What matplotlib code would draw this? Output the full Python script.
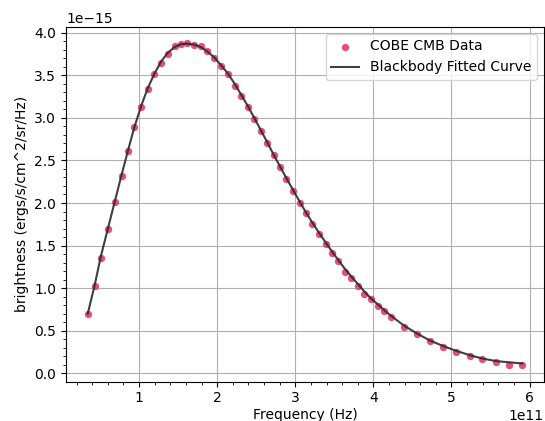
import matplotlib
matplotlib.use("Agg")
import matplotlib.pyplot as plt
import numpy as np

# Frequency in units of 1e11 Hz
freq = [0.342, 0.432, 0.509, 0.603, 0.692, 0.778, 0.859, 0.936, 1.026, 1.112,
        1.197, 1.282, 1.364, 1.454, 1.538, 1.615, 1.704, 1.791, 1.872, 1.962,
        2.047, 2.137, 2.223, 2.308, 2.397, 2.474, 2.556, 2.637, 2.721, 2.804,
        2.881, 2.967, 3.060, 3.133, 3.218, 3.308, 3.394, 3.471, 3.551, 3.633,
        3.714, 3.800, 3.881, 3.964, 4.056, 4.141, 4.227, 4.394, 4.564, 4.727,
        4.897, 5.060, 5.231, 5.394, 5.569, 5.740, 5.906]
# Brightness data in units of 1e-15 ergs/s/cm^2/sr/Hz
data = [0.696, 1.028, 1.353, 1.693, 2.013, 2.318, 2.607, 2.889, 3.123, 3.334,
        3.510, 3.639, 3.748, 3.842, 3.869, 3.877, 3.859, 3.842, 3.783, 3.701,
        3.607, 3.517, 3.376, 3.252, 3.123, 2.989, 2.845, 2.708, 2.562, 2.420,
        2.286, 2.142, 2.001, 1.887, 1.759, 1.634, 1.521, 1.415, 1.321, 1.189,
        1.118, 1.028, 0.934, 0.872, 0.797, 0.732, 0.657, 0.544, 0.457, 0.380,
        0.315, 0.257, 0.204, 0.164, 0.134, 0.102, 0.094]
# Fitted curve values at the same frequencies (units of 1e-15)
fit = [0.70, 1.04, 1.37, 1.71, 2.03, 2.34, 2.62, 2.88, 3.14, 3.35,
       3.52, 3.66, 3.76, 3.83, 3.865, 3.87, 3.86, 3.83, 3.78, 3.71,
       3.62, 3.52, 3.40, 3.27, 3.13, 3.00, 2.86, 2.72, 2.57, 2.43,
       2.30, 2.16, 2.01, 1.895, 1.77, 1.645, 1.53, 1.43, 1.33, 1.23,
       1.14, 1.05, 0.965, 0.885, 0.81, 0.74, 0.675, 0.56, 0.465, 0.385,
       0.32, 0.265, 0.215, 0.175, 0.145, 0.13, 0.117]

x = np.array(freq) * 1e11
y = np.array(data) * 1e-15
yf = np.array(fit) * 1e-15

fig = plt.figure(figsize=(5.45, 4.21), dpi=100)
ax = fig.add_axes([0.1211, 0.0938, 0.877, 0.8421])
ax.scatter(x, y, s=28, color="#e23d6a", alpha=0.9, label="COBE CMB Data", zorder=3, linewidths=0)
ax.plot(x, yf, color="#2b2b2b", lw=1.5, alpha=0.9, label="Blackbody Fitted Curve", zorder=4)
ax.minorticks_on()
ax.grid(True, which="major")
ax.set_xlabel("Frequency (Hz)", labelpad=2)
ax.set_ylabel("brightness (ergs/s/cm^2/sr/Hz)")
ax.legend(loc="upper right")
fig.savefig("out.png", dpi=100)
